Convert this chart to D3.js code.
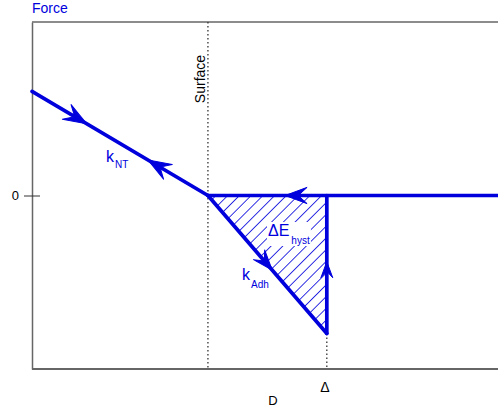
<!DOCTYPE html>
<html>
<head>
<meta charset="utf-8">
<script src="https://cdn.jsdelivr.net/npm/d3@7"></script>
<style>
  body { margin: 0; background: #fff; }
  text { font-family: "Liberation Sans", Arial, sans-serif; }
</style>
</head>
<body>
<div id="chart"></div>
<script>
// Separation axis (surface = 0, snap-in point = 1) and force axis
const xDomain = [-1.48, 2.44];
const yDomain = [-1, 1];
const yTicks = [0];
const yTickLabels = ['0'];

// Force curve pieces
const ntLine = [[-1.48, 0.6], [0, 0]];
const adhLine = [[0, 0], [1, -0.795]];
const jumpLine = [[1, -0.795], [1, 0]];
const baseLine = [[0, 0], [2.44, 0]];
const hystArea = [[0, 0], [1, -0.795], [1, 0]];

// Direction arrows: segment (from -> to) and fraction of the way for the tip
const arrows = [
    { seg: [[-1.48, 0.6], [0, 0]], t: 0.31, size: 23 },
    { seg: [[0, 0], [-1.48, 0.6]], t: 0.34, size: 23 },
    { seg: [[2.44, 0], [0, 0]], t: 0.734, size: 22 },
    { seg: [[0, 0], [1, -0.795]], t: 0.54, size: 20 },
    { seg: [[1, -0.795], [1, 0]], t: 0.52, size: 16 }
];

const surfaceX = 0;
const deltaX = 1;

const width = 498, height = 413;
const blue = '#0000dd';

const svg = d3.select('#chart')
    .append('svg')
    .attr('width', width)
    .attr('height', height);

const x = d3.scaleLinear().domain(xDomain).range([32, 498]);
const y = d3.scaleLinear().domain(yDomain).range([369, 22]);

// Hatch pattern
const defs = svg.append('defs');
const pat = defs.append('pattern')
    .attr('id', 'hatch')
    .attr('patternUnits', 'userSpaceOnUse')
    .attr('width', 8.3)
    .attr('height', 8.3)
    .attr('patternTransform', 'rotate(45)');
pat.append('line')
    .attr('x1', 0).attr('y1', 0)
    .attr('x2', 0).attr('y2', 8.3)
    .attr('stroke', blue)
    .attr('stroke-width', 1.6);

// Frame
svg.append('line')
    .attr('x1', x(xDomain[0])).attr('x2', width)
    .attr('y1', y(yDomain[1])).attr('y2', y(yDomain[1]))
    .attr('stroke', '#666').attr('stroke-width', 1.5);
svg.append('line')
    .attr('x1', x(xDomain[0])).attr('x2', width)
    .attr('y1', y(yDomain[0])).attr('y2', y(yDomain[0]))
    .attr('stroke', '#333').attr('stroke-width', 1.5);

// Y axis with tick through the axis line
const yAxis = svg.append('g')
    .attr('transform', `translate(${x(xDomain[0])},0)`)
    .call(d3.axisLeft(y).tickValues(yTicks).tickFormat((d, i) => yTickLabels[i]).tickSizeInner(8).tickSizeOuter(0).tickPadding(6));
yAxis.select('.domain').attr('stroke', '#666').attr('stroke-width', 1.5);
yAxis.selectAll('.tick line').attr('x2', 8).attr('x1', -8).attr('stroke', '#333');
yAxis.selectAll('.tick text').attr('x', -13).style('font-size', '13px').attr('fill', '#000');

// Dotted guides
svg.append('line')
    .attr('x1', x(surfaceX)).attr('x2', x(surfaceX))
    .attr('y1', y(yDomain[1])).attr('y2', y(yDomain[0]))
    .attr('stroke', '#333').attr('stroke-width', 1.3)
    .attr('stroke-dasharray', '1.5,2.5');
svg.append('line')
    .attr('x1', x(deltaX)).attr('x2', x(deltaX))
    .attr('y1', y(jumpLine[0][1])).attr('y2', y(yDomain[0]))
    .attr('stroke', '#333').attr('stroke-width', 1.3)
    .attr('stroke-dasharray', '1.5,2.5');

// Hatched hysteresis area
const line = d3.line().x(d => x(d[0])).y(d => y(d[1]));
svg.append('path')
    .attr('d', line(hystArea) + 'Z')
    .attr('fill', 'url(#hatch)');

// Curve
[ntLine, adhLine, jumpLine, baseLine].forEach(seg => {
    svg.append('path')
        .attr('d', line(seg))
        .attr('fill', 'none')
        .attr('stroke', blue)
        .attr('stroke-width', 3.7)
        .attr('stroke-linecap', 'round');
});

// Arrowheads
arrows.forEach(a => {
    const [p0, p1] = a.seg;
    const x0 = x(p0[0]), y0 = y(p0[1]), x1 = x(p1[0]), y1 = y(p1[1]);
    const tx = x0 + (x1 - x0) * a.t, ty = y0 + (y1 - y0) * a.t;
    const ang = Math.atan2(y1 - y0, x1 - x0) * 180 / Math.PI;
    const L = a.size, s = 0.37, n = L * 0.6;
    const shape = `M0,0 L${-L},${-L * s} L${-n},0 L${-L},${L * s} Z`;
    svg.append('path')
        .attr('d', shape)
        .attr('transform', `translate(${tx},${ty}) rotate(${ang})`)
        .attr('fill', blue)
        .attr('stroke', blue)
        .attr('stroke-width', 1)
        .attr('stroke-linejoin', 'round');
});

// Labels
svg.append('text')
    .attr('x', 32).attr('y', 13)
    .attr('fill', blue)
    .style('font-size', '14px')
    .text('Force');

svg.append('text')
    .attr('transform', `translate(${x(surfaceX) - 3},79) rotate(-90)`)
    .attr('text-anchor', 'middle')
    .attr('fill', '#000')
    .style('font-size', '14px')
    .text('Surface');

svg.append('text')
    .attr('x', x(deltaX) - 2).attr('y', 392)
    .attr('text-anchor', 'middle')
    .style('font-size', '14px')
    .text('Δ');

svg.append('text')
    .attr('x', 273).attr('y', 405)
    .attr('text-anchor', 'middle')
    .style('font-size', '13px')
    .text('D');

function subLabel(px, py, main, sub, dx, dy, boxed) {
    const g = svg.append('g');
    const t = g.append('text')
        .attr('x', px).attr('y', py)
        .attr('fill', blue)
        .style('font-size', '16px');
    t.append('tspan').text(main);
    t.append('tspan')
        .attr('dx', dx).attr('dy', dy)
        .style('font-size', '10px')
        .text(sub);
    if (boxed) {
        const b = t.node().getBBox();
        g.insert('rect', 'text')
            .attr('x', b.x - 1).attr('y', b.y)
            .attr('width', b.width + 2).attr('height', b.height)
            .attr('fill', '#fff');
    }
}
subLabel(106, 162, 'k', 'NT', 1, 6, false);
subLabel(242, 280, 'k', 'Adh', 1, 8, false);
subLabel(268, 236, 'ΔE', 'hyst', 2, 8, true);
</script>
</body>
</html>
